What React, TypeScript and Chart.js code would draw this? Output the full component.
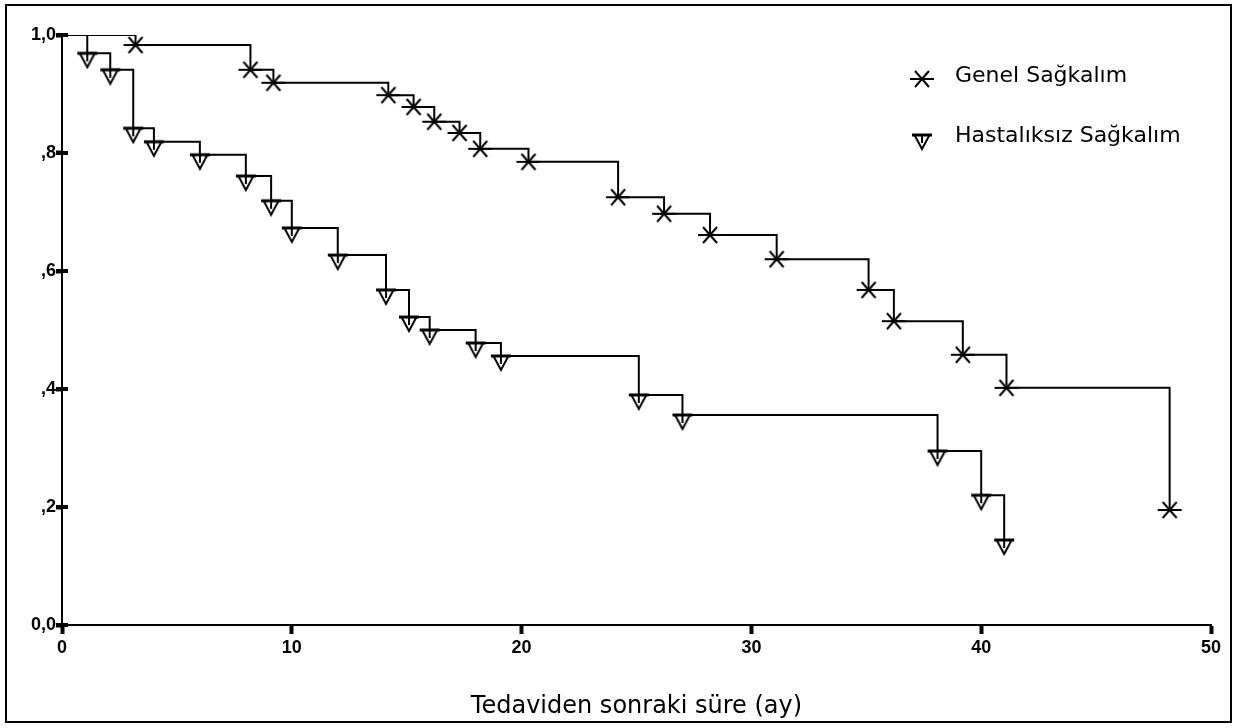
import React, { useEffect, useRef } from "react";
import { Chart, registerables } from "chart.js";

Chart.register(...registerables);

const genelMonths = [0, 3.2, 8.2, 9.2, 14.2, 15.3, 16.2, 17.3, 18.2, 20.3, 24.2, 26.2, 28.2, 31.1, 35.1, 36.2, 39.2, 41.1, 48.2];
const genelSurvival = [1.0, 0.983, 0.941, 0.919, 0.898, 0.878, 0.853, 0.834, 0.807, 0.785, 0.725, 0.697, 0.661, 0.62, 0.568, 0.515, 0.458, 0.402, 0.195];

const hastaliksizMonths = [0, 1.1, 2.1, 3.1, 4.0, 6.0, 8.0, 9.1, 10.0, 12.0, 14.1, 15.1, 16.0, 18.0, 19.1, 25.1, 27.0, 38.1, 40.0, 41.0];
const hastaliksizSurvival = [1.0, 0.969, 0.941, 0.842, 0.819, 0.797, 0.761, 0.719, 0.673, 0.627, 0.568, 0.522, 0.5, 0.478, 0.456, 0.39, 0.356, 0.295, 0.22, 0.144];

const seriesNames = ["Genel Sağkalım", "Hastalıksız Sağkalım"];
const xTicks = [0, 10, 20, 30, 40, 50];
const yTickLabels: Record<string, string> = { "0": "0,0", "0.2": ",2", "0.4": ",4", "0.6": ",6", "0.8": ",8", "1": "1,0" };
const xTitle = "Tedaviden sonraki süre (ay)";

const FONT = '"DejaVu Sans", sans-serif';
const TICK_FONT = '"Liberation Sans", Arial, sans-serif';

function makeAsterisk(): HTMLCanvasElement {
  const c = document.createElement("canvas");
  c.width = 26;
  c.height = 20;
  const g = c.getContext("2d")!;
  g.strokeStyle = "#000";
  g.lineWidth = 2;
  g.lineCap = "butt";
  g.beginPath();
  g.moveTo(1, 10);
  g.lineTo(25, 10);
  g.moveTo(6, 2);
  g.lineTo(20, 18);
  g.moveTo(20, 2);
  g.lineTo(6, 18);
  g.stroke();
  return c;
}

function makeTriangle(): HTMLCanvasElement {
  const c = document.createElement("canvas");
  c.width = 22;
  c.height = 32;
  const g = c.getContext("2d")!;
  const cy = 16;
  g.strokeStyle = "#000";
  g.fillStyle = "#fff";
  g.lineWidth = 2;
  g.beginPath();
  g.moveTo(3.5, cy);
  g.lineTo(18.5, cy);
  g.lineTo(11, cy + 14);
  g.closePath();
  g.fill();
  g.stroke();
  g.lineWidth = 3;
  g.beginPath();
  g.moveTo(1, cy);
  g.lineTo(21, cy);
  g.stroke();
  g.lineWidth = 2;
  g.beginPath();
  g.moveTo(11, cy);
  g.lineTo(11, cy + 8);
  g.stroke();
  return c;
}

export default function App() {
  const ref = useRef<HTMLCanvasElement | null>(null);

  useEffect(() => {
    if (!ref.current) return;
    const asterisk = makeAsterisk();
    const triangle = makeTriangle();

    const framePlugin = {
      id: "frameAndLegend",
      afterDraw(chart: any) {
        const ctx = chart.ctx as CanvasRenderingContext2D;
        const area = chart.chartArea;
        const yScale = chart.scales.y;
        ctx.save();
        ctx.strokeStyle = "#000";
        ctx.lineWidth = 2;
        ctx.strokeRect(6, 5, 1225, 717);
        // y tick marks crossing into the plot
        ctx.fillStyle = "#000";
        yScale.ticks.forEach((t: any) => {
          const py = yScale.getPixelForValue(t.value);
          ctx.fillRect(area.left - 6, py - 2, 12, 4);
        });
        // legend
        const mx = area.right - 289;
        const tx = area.right - 256;
        const rows = [
          { img: asterisk, y: area.top + 44, ty: area.top + 41 },
          { img: triangle, y: area.top + 100, ty: area.top + 101 },
        ];
        ctx.font = "22px " + FONT;
        ctx.textBaseline = "middle";
        ctx.textAlign = "left";
        rows.forEach((r, i) => {
          ctx.drawImage(r.img, mx - r.img.width / 2, r.y - r.img.height / 2);
          ctx.fillText(seriesNames[i], tx, r.ty);
        });
        ctx.restore();
      },
    };

    const chart = new Chart(ref.current, {
      type: "line",
      data: {
        datasets: [
          {
            label: seriesNames[0],
            data: genelMonths.map((m, i) => ({ x: m, y: genelSurvival[i] })),
            stepped: "before",
            borderColor: "#000",
            borderWidth: 2,
            pointStyle: asterisk as any,
            pointRadius: (c: any) => (c.dataIndex === 0 ? 0 : 10),
            pointHoverRadius: 10,
            fill: false,
          },
          {
            label: seriesNames[1],
            data: hastaliksizMonths.map((m, i) => ({ x: m, y: hastaliksizSurvival[i] })),
            stepped: "before",
            borderColor: "#000",
            borderWidth: 2,
            pointStyle: triangle as any,
            pointRadius: (c: any) => (c.dataIndex === 0 ? 0 : 10),
            pointHoverRadius: 10,
            fill: false,
          },
        ],
      },
      options: {
        animation: false,
        responsive: false,
        devicePixelRatio: 1,
        layout: { padding: { left: 0, right: 27, top: 35, bottom: 0 } },
        plugins: { legend: { display: false }, tooltip: { enabled: false } },
        scales: {
          x: {
            type: "linear",
            min: 0,
            max: 50,
            afterFit: (s: any) => {
              s.height = 103;
            },
            afterBuildTicks: (s: any) => {
              s.ticks = xTicks.map((v) => ({ value: v }));
            },
            ticks: {
              color: "#000",
              font: { family: TICK_FONT, size: 18, weight: "bold" },
              padding: 3,
              maxRotation: 0,
              callback: (v: any) => String(v),
            },
            grid: {
              display: true,
              drawOnChartArea: false,
              drawTicks: true,
              tickLength: 9,
              tickWidth: 4,
              tickColor: "#000",
            },
            border: { display: true, color: "#000", width: 2 },
            title: {
              display: true,
              text: xTitle,
              color: "#000",
              font: { family: FONT, size: 24 },
              padding: { top: 0, bottom: 7 },
            },
          },
          y: {
            type: "linear",
            min: 0,
            max: 1,
            afterFit: (s: any) => {
              s.width = 62;
            },
            ticks: {
              stepSize: 0.2,
              color: "#000",
              font: { family: TICK_FONT, size: 18, weight: "bold" },
              padding: 0,
              callback: (v: any) => {
                const k = String(Math.round(Number(v) * 10) / 10);
                return yTickLabels[k] ?? "";
              },
            },
            grid: {
              display: true,
              drawOnChartArea: false,
              drawTicks: true,
              tickLength: 6,
              tickWidth: 4,
              tickColor: "#000",
            },
            border: { display: true, color: "#000", width: 2 },
          },
        },
      },
      plugins: [framePlugin],
    } as any);

    return () => chart.destroy();
  }, []);

  return (
    <div style={{ position: "fixed", left: 0, top: 0, width: 1238, height: 728, background: "#fff" }}>
      <canvas ref={ref} width={1238} height={728} style={{ display: "block", width: 1238, height: 728 }} />
    </div>
  );
}
